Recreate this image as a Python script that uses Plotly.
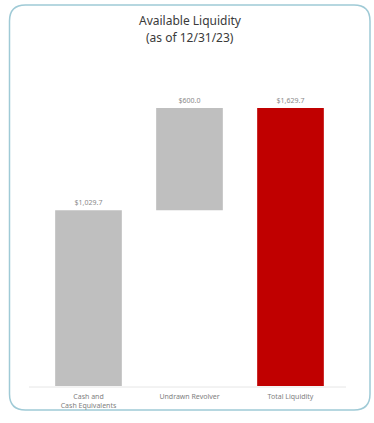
import plotly.graph_objects as go

categories = ["Cash and<br>Cash Equivalents", "Undrawn Revolver", "Total Liquidity"]
values = [1029.7, 600.0, 1629.7]
bases = [0, 1029.7, 0]
labels = ["$1,029.7", "$600.0", "$1,629.7"]
colors = ["#bfbfbf", "#bfbfbf", "#c00000"]
title_lines = ["Available Liquidity", "(as of 12/31/23)"]

W, H = 374, 423
L, R, T, B = 38, 33, 100, 37
pw, ph = W - L - R, H - T - B

def px(x):
    return (x - L) / pw

def py(y):
    return (H - B - y) / ph

fig = go.Figure()
fig.add_trace(go.Bar(
    x=categories, y=values, base=bases,
    marker=dict(color=colors, line=dict(width=0)),
    width=0.66,
    text=labels, textposition="outside",
    textfont=dict(size=7, color="#8a8a8a", family="Noto Sans"),
    cliponaxis=False, hoverinfo="skip",
))

# rounded border
x0, x1, y0, y1, r = 9.5, 370, 5, 410, 16
rx, ry = r / pw, r / ph
X0, X1, Y0, Y1 = px(x0), px(x1), py(y1), py(y0)
path = (f"M {X0+rx},{Y1} L {X1-rx},{Y1} Q {X1},{Y1} {X1},{Y1-ry} "
        f"L {X1},{Y0+ry} Q {X1},{Y0} {X1-rx},{Y0} L {X0+rx},{Y0} "
        f"Q {X0},{Y0} {X0},{Y0+ry} L {X0},{Y1-ry} Q {X0},{Y1} {X0+rx},{Y1} Z")
fig.add_shape(type="path", path=path, xref="paper", yref="paper",
              line=dict(color="#9fcad6", width=1.5), layer="below")
# baseline
fig.add_shape(type="line", xref="paper", yref="paper",
              x0=px(29), x1=px(346), y0=py(387), y1=py(387),
              line=dict(color="#e6e6e6", width=1))

for i, (line, yc) in enumerate(zip(title_lines, [21, 38])):
    fig.add_annotation(text=line, xref="paper", yref="paper",
                       x=px(190), y=py(yc), xanchor="center", yanchor="middle",
                       showarrow=False,
                       font=dict(size=12, color="#3a3a3a", family="Noto Sans"))

fig.update_layout(
    width=W, height=H,
    margin=dict(l=L, r=R, t=T, b=B),
    paper_bgcolor="white", plot_bgcolor="white",
    showlegend=False,
    xaxis=dict(showgrid=False, showline=False, zeroline=False, ticks="",
               ticklabelstandoff=5,
               tickfont=dict(size=7, color="#808080", family="Noto Sans")),
    yaxis=dict(range=[0, 1676], visible=False),
    bargap=0.34,
)

fig.write_html("out.html")
